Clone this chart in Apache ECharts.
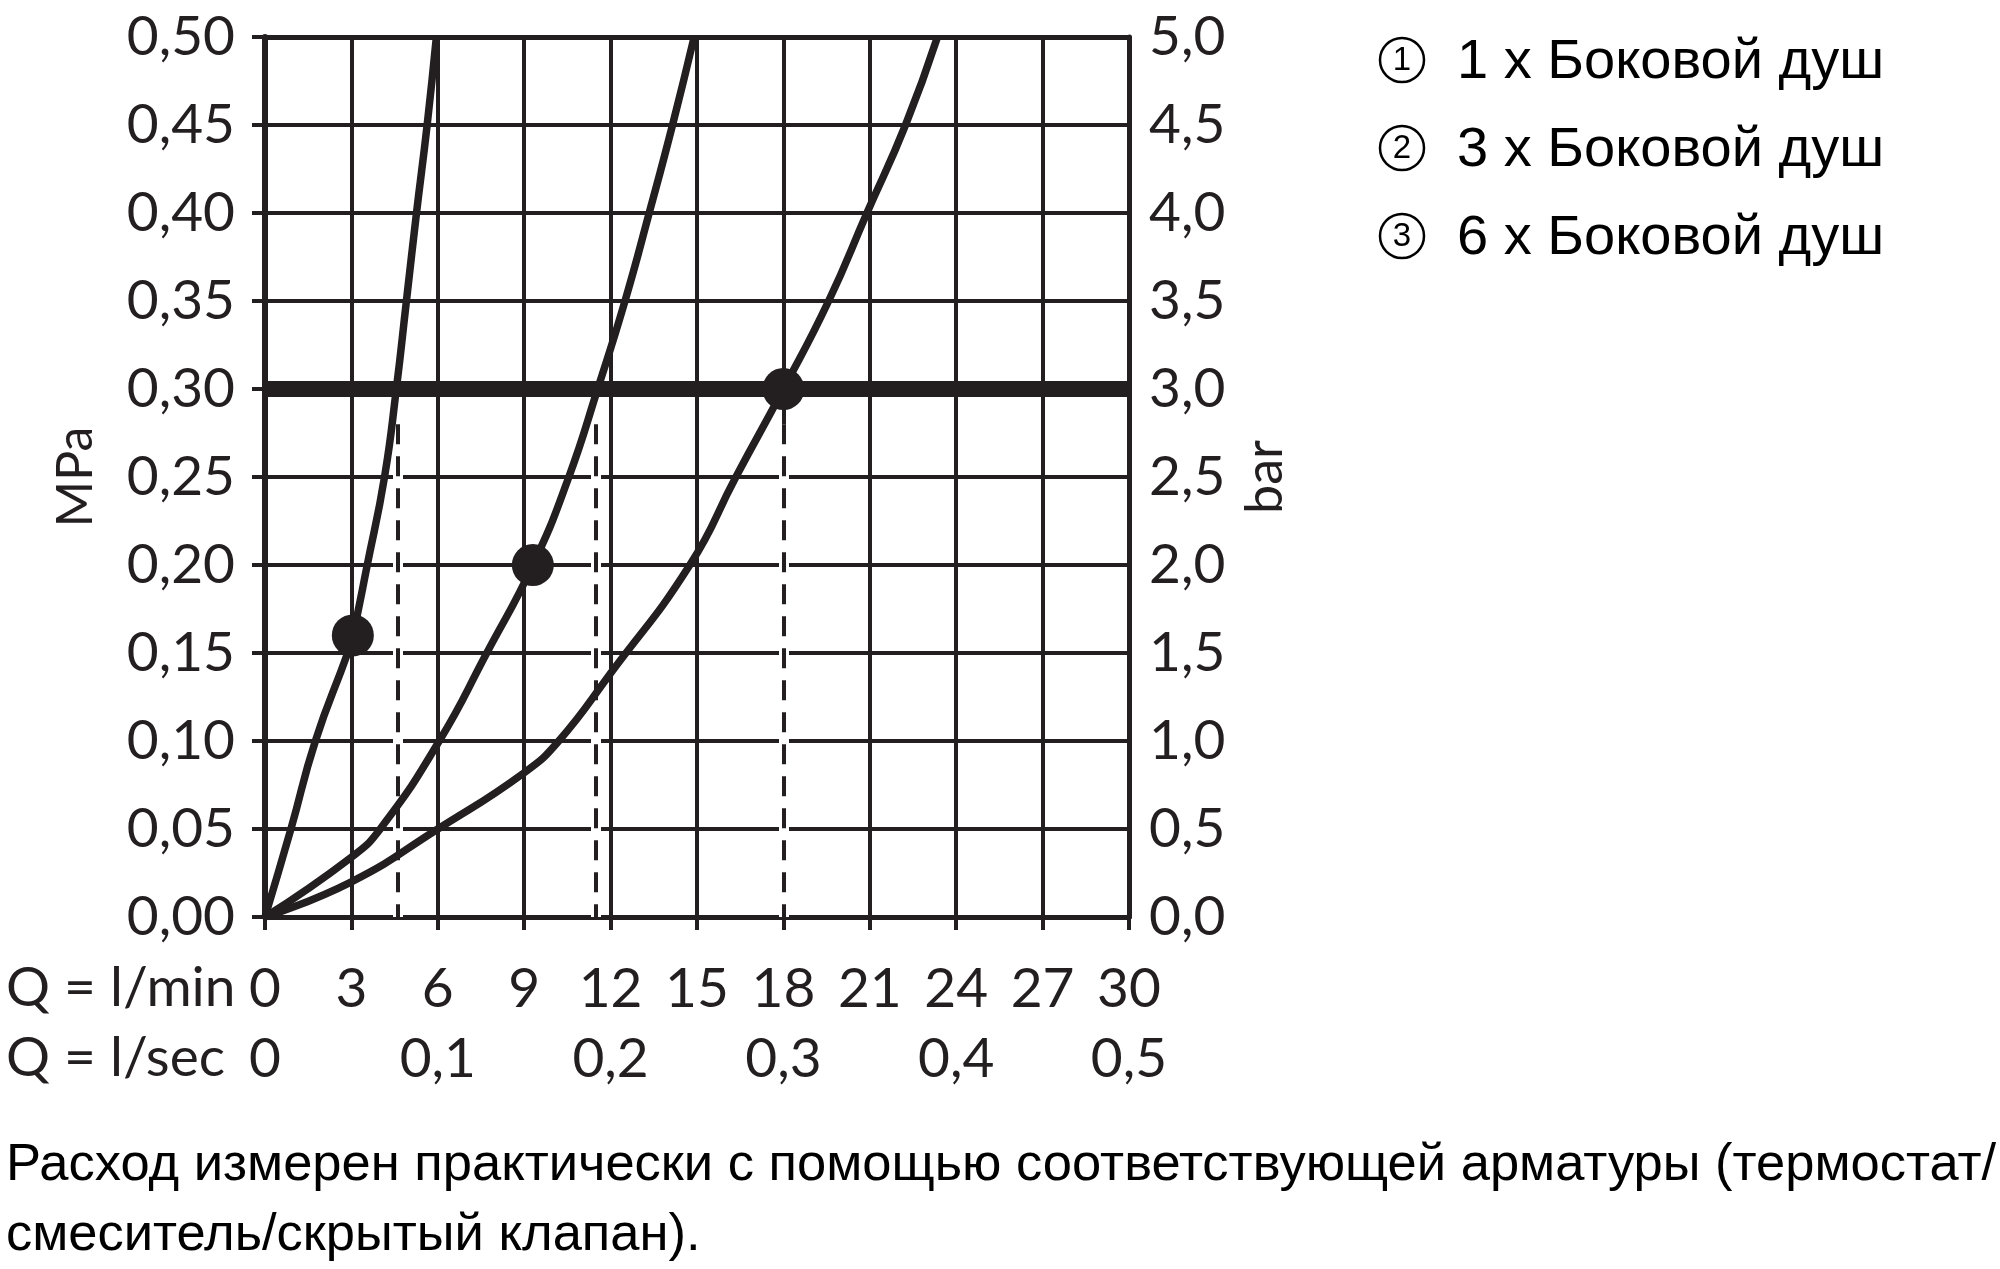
<!DOCTYPE html>
<html>
<head>
<meta charset="utf-8">
<script src="https://cdn.jsdelivr.net/npm/echarts@6/dist/echarts.min.js"></script>
<style>
html,body{margin:0;padding:0;background:#fff;}
#chart{width:2000px;height:1269px;}
</style>
</head>
<body>
<div id="chart"></div>
<script>
// ---- data ----
const seriesNames = ['1 x Боковой душ', '3 x Боковой душ', '6 x Боковой душ'];
// curve 1 (1 side shower): flow l/min, pressure MPa
const curve1Q = [0, 0.9, 1.75, 2.87, 3.05, 3.55, 4.15, 4.56, 4.91, 5.26, 5.63, 5.95];
const curve1P = [0, 0.05, 0.10, 0.15, 0.16, 0.20, 0.25, 0.30, 0.35, 0.40, 0.45, 0.50];
// curve 2 (3 side showers)
const curve2Q = [0, 3, 4.0, 6.05, 7.7, 9.3, 10.55, 11.55, 12.5, 13.34, 14.15, 14.9];
const curve2P = [0, 0.034, 0.05, 0.10, 0.15, 0.20, 0.25, 0.30, 0.35, 0.40, 0.45, 0.50];
// curve 3 (6 side showers)
const curve3Q = [0, 3, 6.0, 9, 10.2, 12, 14.75, 16.35, 18, 19.57, 20.9, 22.24, 23.35];
const curve3P = [0, 0.020, 0.05, 0.082, 0.10, 0.1385, 0.20, 0.25, 0.30, 0.35, 0.40, 0.45, 0.50];
// operating points (markers)
const markerQ = [3.05, 9.3, 18];
const markerP = [0.16, 0.20, 0.30];
// reference pressure line and dashed drop lines
const refPressure = 0.30;
const dashQ = [4.6, 11.5, 18];
const dashTopP = 0.28;
// axis ranges / ticks
const qMin = 0, qMax = 30, qStep = 3;           // l/min
const qsMin = 0, qsMax = 0.5, qsStep = 0.1;     // l/sec
const pMin = 0, pMax = 0.5, pStep = 0.05;       // MPa
const barMin = 0, barMax = 5, barStep = 0.5;    // bar
const rowLabels = ['Q = l/min', 'Q = l/sec'];
const noteLines = [
  'Расход измерен практически с помощью соответствующей арматуры (термостат/',
  'смеситель/скрытый клапан).'
];

const INK = '#231f20';
const AXFONT = 'Lato, "Open Sans", sans-serif';
const ARIAL = '"Liberation Sans", Arial, sans-serif';
const comma = (v, d) => v.toFixed(d).replace('.', ',');
const pairs = (xs, ys) => xs.map((x, i) => [x, ys[i]]);

const curves = [pairs(curve1Q, curve1P), pairs(curve2Q, curve2P), pairs(curve3Q, curve3P)];

const chart = echarts.init(document.getElementById('chart'), null, {renderer: 'canvas'});

const labelStyle = {color: INK, fontFamily: AXFONT, fontSize: 55};

const graphic = [];
const legendY = [63, 151, 239];
seriesNames.forEach((n, i) => {
  graphic.push({type: 'circle', shape: {cx: 1402, cy: legendY[i] - 3, r: 22},
    style: {fill: 'none', stroke: '#000', lineWidth: 2.5}});
  graphic.push({type: 'text', x: 1402, y: legendY[i] - 2,
    style: {text: String(i + 1), font: '33px ' + ARIAL, fill: '#000', align: 'center', verticalAlign: 'middle'}});
  graphic.push({type: 'text', x: 1457, y: legendY[i],
    style: {text: n, font: '56px ' + ARIAL, fill: '#000', align: 'left', verticalAlign: 'middle'}});
});
graphic.push({type: 'text', x: 6, y: 988,
  style: {text: rowLabels[0], font: '55px ' + AXFONT, fill: INK, align: 'left', verticalAlign: 'middle'}});
graphic.push({type: 'text', x: 6, y: 1058,
  style: {text: rowLabels[1], font: '55px ' + AXFONT, fill: INK, align: 'left', verticalAlign: 'middle'}});
graphic.push({type: 'text', x: 6, y: 1166,
  style: {text: noteLines[0], font: '52.5px ' + ARIAL, fill: '#000', align: 'left', verticalAlign: 'middle'}});
graphic.push({type: 'text', x: 6, y: 1236,
  style: {text: noteLines[1], font: '52.5px ' + ARIAL, fill: '#000', align: 'left', verticalAlign: 'middle'}});

const option = {
  backgroundColor: '#fff',
  animation: false,
  grid: {left: 265, right: 871, top: 37, bottom: 352, containLabel: false},
  xAxis: [
    {
      type: 'value', position: 'bottom', min: qMin, max: qMax, interval: qStep,
      axisLine: {show: true, onZero: false, lineStyle: {color: INK, width: 5}},
      axisTick: {show: true, inside: false, length: 13, lineStyle: {color: INK, width: 4}},
      splitLine: {show: true, lineStyle: {color: INK, width: 4}},
      axisLabel: Object.assign({margin: 45, formatter: v => String(v)}, labelStyle)
    },
    {
      type: 'value', position: 'bottom', offset: 70, min: qsMin, max: qsMax, interval: qsStep,
      axisLine: {show: false, onZero: false}, axisTick: {show: false}, splitLine: {show: false},
      axisLabel: Object.assign({margin: 45, formatter: v => v === 0 ? '0' : comma(v, 1)}, labelStyle)
    },
    {
      type: 'value', position: 'top', min: qMin, max: qMax, interval: qStep,
      axisLine: {show: true, onZero: false, lineStyle: {color: INK, width: 5}},
      axisTick: {show: false}, splitLine: {show: false}, axisLabel: {show: false}
    }
  ],
  yAxis: [
    {
      type: 'value', position: 'left', min: pMin, max: pMax, interval: pStep,
      name: 'MPa', nameLocation: 'middle', nameRotate: 90, nameGap: 164,
      nameTextStyle: {color: INK, fontFamily: AXFONT, fontSize: 50},
      axisLine: {show: true, onZero: false, lineStyle: {color: INK, width: 6}},
      axisTick: {show: true, inside: false, length: 13, lineStyle: {color: INK, width: 4}},
      splitLine: {show: true, lineStyle: {color: INK, width: 4}},
      axisLabel: Object.assign({margin: 30, formatter: v => comma(v, 2), padding: [0, 0, 34, 0]}, labelStyle)
    },
    {
      type: 'value', position: 'right', min: barMin, max: barMax, interval: barStep,
      name: 'bar', nameLocation: 'middle', nameRotate: 90, nameGap: 110,
      nameTextStyle: {color: INK, fontFamily: AXFONT, fontSize: 52},
      axisLine: {show: true, onZero: false, lineStyle: {color: INK, width: 5}},
      axisTick: {show: false}, splitLine: {show: false},
      axisLabel: Object.assign({margin: 20, formatter: v => comma(v, 1), padding: [0, 0, 34, 0]}, labelStyle)
    }
  ],
  series: [
    {
      name: 'ref', type: 'line', xAxisIndex: 0, yAxisIndex: 0, z: 3,
      data: [[qMin, refPressure], [qMax, refPressure]],
      showSymbol: false, symbol: 'none', silent: true,
      lineStyle: {color: INK, width: 16, cap: 'butt'}
    },
    {
      name: 'halo', type: 'line', xAxisIndex: 0, yAxisIndex: 0, z: 3, data: [],
      markLine: {silent: true, symbol: 'none', label: {show: false},
        lineStyle: {color: '#fff', width: 10, type: 'solid'},
        data: dashQ.map(q => [{coord: [q, 0]}, {coord: [q, dashTopP]}])}
    },
    {
      name: 'drop', type: 'line', xAxisIndex: 0, yAxisIndex: 0, z: 4, data: [],
      markLine: {silent: true, symbol: 'none', label: {show: false},
        lineStyle: {color: INK, width: 4, type: [20, 12]},
        data: dashQ.map(q => [{coord: [q, dashTopP]}, {coord: [q, 0]}])}
    }
  ].concat(curves.map((d, i) => ({
    name: seriesNames[i], type: 'line', xAxisIndex: 0, yAxisIndex: 0, z: 5,
    data: d, showSymbol: false, symbol: 'none', smooth: 0.5,
    lineStyle: {color: INK, width: 7.5}
  }))).concat([{
    name: 'points', type: 'scatter', xAxisIndex: 0, yAxisIndex: 0, z: 6,
    data: pairs(markerQ, markerP), symbol: 'circle', symbolSize: 42,
    itemStyle: {color: INK, opacity: 1}
  }]),
  graphic: graphic
};
chart.setOption(option);
</script>
</body>
</html>
